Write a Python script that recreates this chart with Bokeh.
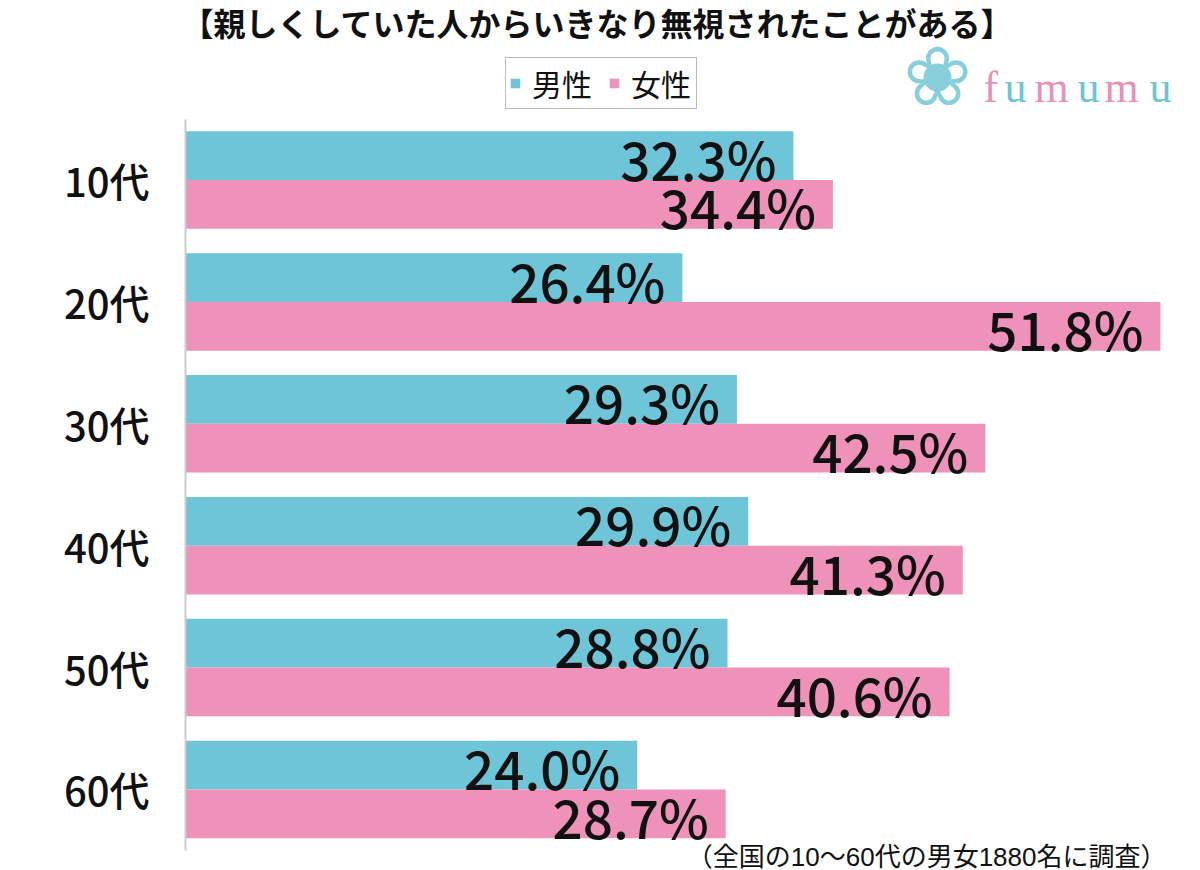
from bokeh.plotting import figure
from bokeh.models import ColumnDataSource, Range1d, Label, Legend, LegendItem, FixedTicker
from bokeh.embed import file_html
from bokeh.resources import INLINE
from bokeh.core.properties import value

categories = ["10代", "20代", "30代", "40代", "50代", "60代"]
male = [32.3, 26.4, 29.3, 29.9, 28.8, 24.0]
female = [34.4, 51.8, 42.5, 41.3, 40.6, 28.7]
series_names = ["男性", "女性"]
title_text = "【親しくしていた人からいきなり無視されたことがある】"
note_text = "（全国の10～60代の男女1880名に調査）"
logo_letters = ["f", "u", "m", "u", "m", "u"]

CYAN = "#6EC5D8"
PINK = "#EE92B9"
JP = "Noto Sans CJK JP"
NUM = "Noto Sans CJK JP Medium, Liberation Sans, Noto Sans CJK JP"

W, H = 1184, 870
FL = 185  # frame left (canvas px)
FB = 870  # frame bottom (canvas px)

idx = list(range(len(categories)))
src = ColumnDataSource(dict(
    cat=categories,
    ym=[i - 0.2 for i in idx],
    yf=[i + 0.2 for i in idx],
    male=male,
    female=female,
    male_lbl=[f"{v:.1f}%" for v in male],
    female_lbl=[f"{v:.1f}%" for v in female],
))

p = figure(width=W, height=H, output_backend="svg", toolbar_location=None,
           y_range=Range1d(5.6645, -1.4725),
           x_range=Range1d(0, 53.08),
           min_border_left=FL, min_border_right=0, min_border_top=0, min_border_bottom=0)

rm = p.hbar(y="ym", right="male", left=0, height=0.4, source=src,
            fill_color=CYAN, line_color=None)
rf = p.hbar(y="yf", right="female", left=0, height=0.4, source=src,
            fill_color=PINK, line_color=None)

for ycol, xcol, tcol in (("ym", "male", "male_lbl"), ("yf", "female", "female_lbl")):
    p.text(x=xcol, y=ycol, text=tcol, source=src,
           text_align="right", text_baseline="middle", x_offset=-17, y_offset=2,
           text_font=value(NUM), text_font_size="53px", text_color="#111111")

p.xaxis.visible = False
p.xgrid.visible = False
p.ygrid.visible = False
p.outline_line_color = None
p.yaxis.bounds = (-0.5, 5.5)
p.yaxis.ticker = FixedTicker(ticks=idx)
p.yaxis.major_label_overrides = {i: c for i, c in zip(idx, categories)}
p.yaxis.axis_line_color = "#cccccc"
p.yaxis.axis_line_width = 2
p.yaxis.major_tick_line_color = None
p.yaxis.minor_tick_line_color = None
p.yaxis.major_label_standoff = 30
p.yaxis.major_label_text_font = NUM
p.yaxis.major_label_text_font_size = "40px"
p.yaxis.major_label_text_color = "#111111"

def fx(x):
    return x - FL

def fy(y):
    return FB - y

legend = Legend(items=[LegendItem(label=series_names[0], renderers=[rm]),
                       LegendItem(label=series_names[1], renderers=[rf])],
                orientation="horizontal", location=(fx(505), fy(109)),
                label_text_font=JP, label_text_font_size="30px", label_text_color="#111111",
                glyph_width=12, glyph_height=12, label_standoff=11, label_width=62,
                spacing=14, padding=3, margin=0,
                border_line_color="#777777", border_line_width=1,
                background_fill_color="white", background_fill_alpha=1)
p.add_layout(legend, "center")

p.add_layout(Label(x=fx(597), y=fy(21), x_units="screen", y_units="screen", text=title_text,
                   text_align="center", text_baseline="middle", text_font=JP,
                   text_font_size="32px", text_font_style="bold", text_color="#111111"))

p.add_layout(Label(x=fx(1166), y=fy(856), x_units="screen", y_units="screen", text=note_text,
                   text_align="right", text_baseline="middle",
                   text_font="Liberation Sans, Noto Sans CJK JP",
                   text_font_size="26px", text_color="#111111"))

# logo
p.add_layout(Label(x=fx(937), y=fy(76), x_units="screen", y_units="screen", text="❀",
                   text_align="center", text_baseline="middle", text_font="DejaVu Sans",
                   text_font_size="82px", text_color="#86CFDB"))
logo_x = [983, 1004, 1034, 1077, 1104, 1149]
for ch, lx in zip(logo_letters, logo_x):
    p.add_layout(Label(x=fx(lx), y=fy(87), x_units="screen", y_units="screen", text=ch,
                       text_align="left", text_baseline="alphabetic", text_font="Liberation Serif",
                       text_font_size="44px",
                       text_color="#E891B5" if ch in "fm" else "#6CC5D0"))

open("out.html", "w").write(file_html(p, INLINE))
